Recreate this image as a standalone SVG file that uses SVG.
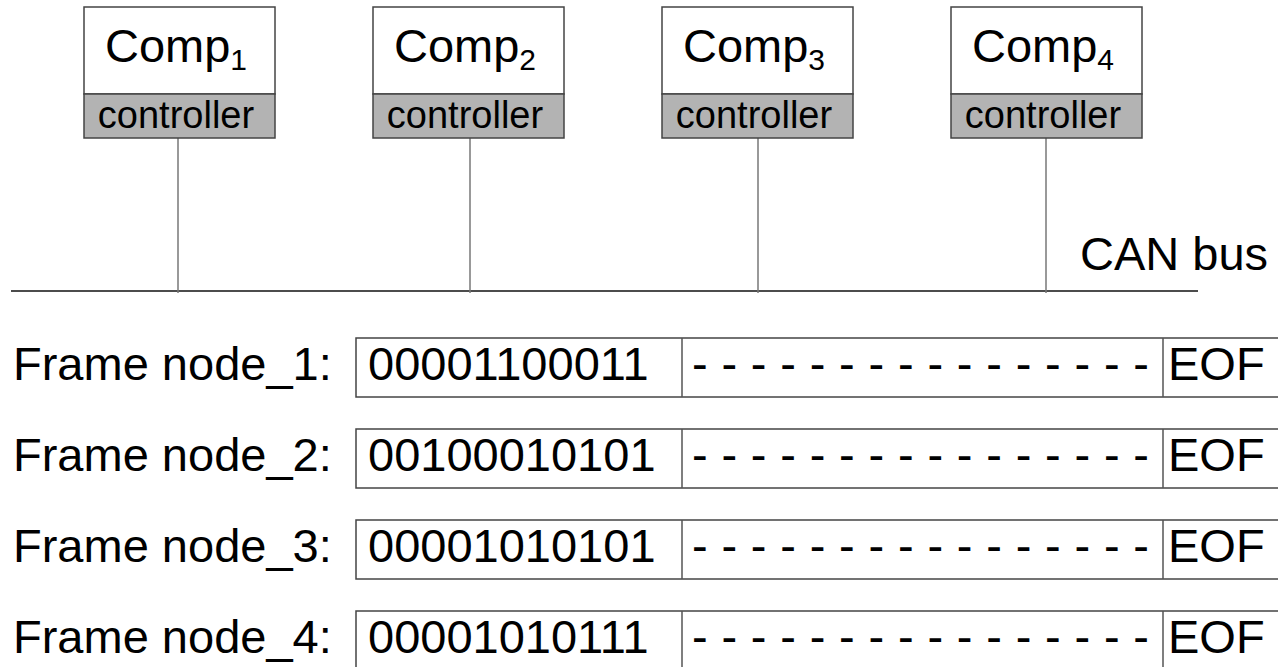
<svg xmlns="http://www.w3.org/2000/svg" width="1278" height="667" viewBox="0 0 1278 667">
  <style>
    text { font-family: "Liberation Sans", Arial, sans-serif; fill: #000; }
    .box { fill: #fff; stroke: #444; stroke-width: 1.5; }
    .ctrl { fill: #b3b3b3; stroke: #444; stroke-width: 1.5; }
    .title { font-size: 47px; text-anchor: middle; }
    .sub { font-size: 30px; }
    .ctext { font-size: 38px; text-anchor: middle; }
    .drop { stroke: #777; stroke-width: 1.5; fill: none; }
    .bus { stroke: #111; stroke-width: 1.5; fill: none; }
    .frame { fill: #fff; stroke: #444; stroke-width: 1.5; }
    .sep { stroke: #555; stroke-width: 1.5; }
    .big { font-size: 47px; }
  </style>

  <!-- bus and drop lines -->
  <g id="connectors">
    <line class="bus" x1="11" y1="291" x2="1198" y2="291"/>
    <line class="drop" x1="178" y1="138" x2="178" y2="293"/>
    <line class="drop" x1="470" y1="138" x2="470" y2="293"/>
    <line class="drop" x1="758" y1="138" x2="758" y2="293"/>
    <line class="drop" x1="1046" y1="138" x2="1046" y2="293"/>
  </g>

  <g id="comp1">
    <rect class="box" x="84" y="7" width="191" height="87"/>
    <rect class="ctrl" x="84" y="94" width="191" height="44"/>
    <text class="title" x="176" y="62">Comp<tspan class="sub" dy="8">1</tspan></text>
    <text class="ctext" x="176" y="128">controller</text>
  </g>
  <g id="comp2">
    <rect class="box" x="373" y="7" width="191" height="87"/>
    <rect class="ctrl" x="373" y="94" width="191" height="44"/>
    <text class="title" x="465" y="62">Comp<tspan class="sub" dy="8">2</tspan></text>
    <text class="ctext" x="465" y="128">controller</text>
  </g>
  <g id="comp3">
    <rect class="box" x="662" y="7" width="191" height="87"/>
    <rect class="ctrl" x="662" y="94" width="191" height="44"/>
    <text class="title" x="754" y="62">Comp<tspan class="sub" dy="8">3</tspan></text>
    <text class="ctext" x="754" y="128">controller</text>
  </g>
  <g id="comp4">
    <rect class="box" x="951" y="7" width="191" height="87"/>
    <rect class="ctrl" x="951" y="94" width="191" height="44"/>
    <text class="title" x="1043" y="62">Comp<tspan class="sub" dy="8">4</tspan></text>
    <text class="ctext" x="1043" y="128">controller</text>
  </g>

  <g id="bus-label">
    <text class="big" x="1080" y="270" font-size="46">CAN bus</text>
  </g>

  <!-- frames, one row per node -->
  <g id="frame1">
    <text class="big" x="13" y="380">Frame node_1:</text>
    <rect class="frame" x="356" y="338" width="940" height="59"/>
    <line class="sep" x1="682" y1="338" x2="682" y2="397"/>
    <line class="sep" x1="1163" y1="338" x2="1163" y2="397"/>
    <text class="big" x="368" y="380" font-size="46">00001100011</text>
    <text class="big" x="692" y="380" font-size="46" textLength="457" lengthAdjust="spacing">- - - - - - - - - - - - - - - -</text>
    <text class="big" x="1168" y="380" font-size="46">EOF</text>
  </g>
  <g id="frame2">
    <text class="big" x="13" y="471">Frame node_2:</text>
    <rect class="frame" x="356" y="429" width="940" height="59"/>
    <line class="sep" x1="682" y1="429" x2="682" y2="488"/>
    <line class="sep" x1="1163" y1="429" x2="1163" y2="488"/>
    <text class="big" x="368" y="471" font-size="46">00100010101</text>
    <text class="big" x="692" y="471" font-size="46" textLength="457" lengthAdjust="spacing">- - - - - - - - - - - - - - - -</text>
    <text class="big" x="1168" y="471" font-size="46">EOF</text>
  </g>
  <g id="frame3">
    <text class="big" x="13" y="562">Frame node_3:</text>
    <rect class="frame" x="356" y="520" width="940" height="59"/>
    <line class="sep" x1="682" y1="520" x2="682" y2="579"/>
    <line class="sep" x1="1163" y1="520" x2="1163" y2="579"/>
    <text class="big" x="368" y="562" font-size="46">00001010101</text>
    <text class="big" x="692" y="562" font-size="46" textLength="457" lengthAdjust="spacing">- - - - - - - - - - - - - - - -</text>
    <text class="big" x="1168" y="562" font-size="46">EOF</text>
  </g>
  <g id="frame4">
    <text class="big" x="13" y="653">Frame node_4:</text>
    <rect class="frame" x="356" y="611" width="940" height="59"/>
    <line class="sep" x1="682" y1="611" x2="682" y2="670"/>
    <line class="sep" x1="1163" y1="611" x2="1163" y2="670"/>
    <text class="big" x="368" y="653" font-size="46">00001010111</text>
    <text class="big" x="692" y="653" font-size="46" textLength="457" lengthAdjust="spacing">- - - - - - - - - - - - - - - -</text>
    <text class="big" x="1168" y="653" font-size="46">EOF</text>
  </g>
</svg>
